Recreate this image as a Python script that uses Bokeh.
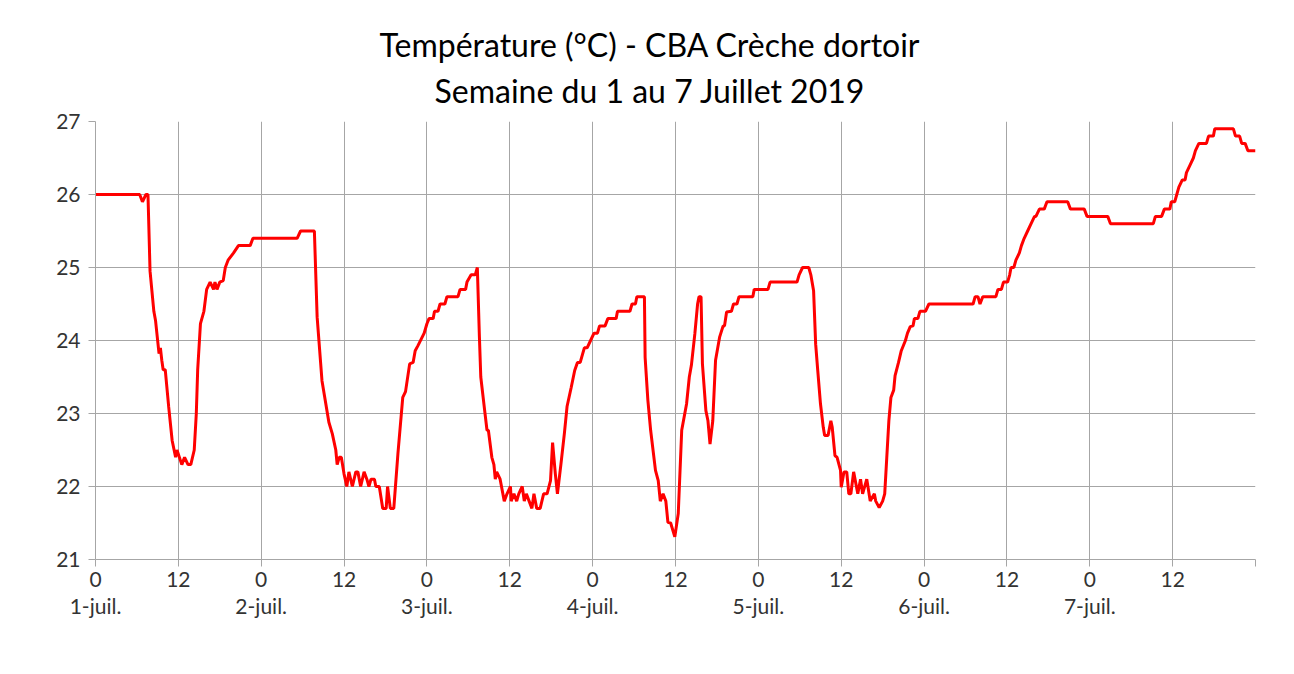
from bokeh.plotting import figure
from bokeh.models import LinearAxis, FixedTicker, Range1d, Title
from bokeh.embed import file_html
from bokeh.resources import INLINE

# ---- data (hours since 1 July 00:00, temperature in °C) ----
hours = [0, 6.4, 6.8, 7.3, 7.6, 7.9, 8.45, 8.7, 9.2, 9.4, 9.6, 9.8, 10.1, 10.6, 11.1, 11.6, 11.8,
         12.5, 12.9, 13.4, 13.8, 14.3, 14.6, 14.8, 15.2, 15.7, 16.1, 16.6, 17.1, 17.3, 17.6, 18.0,
         18.5, 18.8, 19.2, 20.0, 20.7, 22.4, 22.8, 29.2, 29.7, 31.7, 32.1, 32.8, 33.8, 34.3, 34.8,
         35.0, 35.3, 35.6, 36.0, 36.4, 36.7, 37.2, 37.7, 38.0, 38.4, 38.9, 39.3, 39.6, 39.9, 40.4,
         40.6, 41.1, 41.6, 42.1, 42.3, 42.7, 43.2, 43.8, 44.5, 44.9, 45.5, 46.0, 46.3, 46.7, 47.6,
         48.0, 48.3, 48.9, 49.1, 49.6, 49.9, 50.6, 50.9, 52.5, 52.8, 53.6, 53.8, 54.4, 55.0, 55.3,
         55.6, 55.8, 56.3, 56.7, 56.9, 57.4, 57.7, 57.9, 58.1, 58.6, 59.2, 59.6, 60.1, 60.2, 60.6,
         61.0, 61.3, 61.8, 62.1, 62.4, 62.8, 63.2, 63.5, 63.9, 64.4, 64.9, 65.4, 65.9, 66.2, 66.6,
         66.9, 67.4, 67.9, 68.3, 68.9, 69.4, 69.8, 70.2, 70.8, 71.2, 71.7, 72.2, 72.7, 73.0, 73.8,
         74.2, 75.4, 75.6, 77.4, 77.7, 78.2, 78.4, 79.5, 79.6, 80.0, 80.4, 81.1, 81.5, 81.8, 82.2,
         82.6, 82.9, 83.3, 83.9, 84.4, 84.9, 85.6, 86.0, 86.3, 86.8, 87.2, 87.4, 87.7, 87.9, 88.4,
         88.7, 89.0, 89.4, 89.8, 90.4, 90.9, 91.1, 91.4, 92.1, 92.4, 92.9, 93.2, 95.2, 95.4, 97.4,
         97.7, 101.6, 101.9, 102.4, 103.3, 103.6, 104.0, 104.3, 104.6, 105.0, 105.4, 105.6, 106.1,
         106.5, 106.7, 107.1, 107.4, 107.9, 108.0, 108.4, 108.8, 109.1, 109.4, 109.8, 110.4, 110.8,
         111.1, 111.7, 112.2, 112.8, 113.0, 113.5, 114.0, 114.3, 114.6, 114.9, 115.2, 115.6, 115.8,
         116.3, 116.7, 117.3, 117.6, 118.0, 118.4, 118.6, 119.1, 119.4, 120.2, 120.7, 127.1, 127.4,
         127.8, 128.1, 128.5, 130.4, 130.7, 131.2, 131.5, 132.1, 132.4, 132.6, 133.0, 133.3, 133.8,
         134.1, 134.5, 135.0, 135.5, 136.0, 136.2, 136.7, 137.4, 137.8, 140.8, 141.2, 143.2, 143.6,
         146.6, 147.0, 153.2, 153.5, 154.4, 154.8, 155.6, 155.8, 156.3, 156.6, 156.9, 157.4, 157.8,
         158.0, 158.5, 159.0, 159.3, 159.8, 160.9, 161.2, 161.9, 162.1, 164.8, 165.1, 165.7, 166.0,
         166.5, 166.9, 168.0]
temps = [26.0, 26.0, 25.9, 26.0, 26.0, 24.95, 24.4, 24.27, 23.82, 23.9, 23.73, 23.6, 23.6, 23.09, 22.63, 22.4, 22.5,
         22.3, 22.4, 22.3, 22.3, 22.5, 23.0, 23.6, 24.23, 24.4, 24.7, 24.8, 24.7, 24.8, 24.7, 24.8,
         24.82, 25.0, 25.1, 25.2, 25.3, 25.3, 25.4, 25.4, 25.5, 25.5, 24.32, 23.45, 22.88, 22.72, 22.5,
         22.3, 22.4, 22.4, 22.17, 22.0, 22.2, 22.0, 22.2, 22.2, 22.0, 22.2, 22.1, 22.0, 22.1, 22.1,
         22.0, 22.0, 21.7, 21.7, 22.0, 21.7, 21.7, 22.45, 23.22, 23.3, 23.68, 23.7, 23.86, 23.93, 24.1,
         24.23, 24.3, 24.3, 24.4, 24.4, 24.5, 24.5, 24.6, 24.6, 24.7, 24.7, 24.8, 24.9, 24.9, 25.0,
         24.05, 23.5, 23.09, 22.77, 22.77, 22.4, 22.3, 22.1, 22.2, 22.1, 21.8, 21.9, 22.0, 21.8, 21.9,
         21.8, 21.9, 22.0, 21.8, 21.9, 21.8, 21.7, 21.9, 21.7, 21.7, 21.9, 21.9, 22.08, 22.6, 22.17,
         21.9, 22.3, 22.72, 23.1, 23.36, 23.59, 23.7, 23.7, 23.9, 23.9, 24.0, 24.1, 24.1, 24.2, 24.2,
         24.3, 24.3, 24.4, 24.4, 24.5, 24.5, 24.6, 24.6, 23.77, 23.18, 22.77, 22.22, 22.08, 21.8, 21.9,
         21.8, 21.51, 21.5, 21.31, 21.63, 22.77, 23.13, 23.5, 23.66, 24.09, 24.5, 24.6, 24.6, 23.68, 23.04,
         22.9, 22.58, 22.9, 23.73, 24.05, 24.2, 24.2, 24.39, 24.4, 24.5, 24.5, 24.6, 24.6, 24.7, 24.7,
         24.8, 24.8, 24.9, 25.0, 25.0, 24.9, 24.68, 23.95, 23.59, 23.13, 22.81, 22.7, 22.7,
         22.9, 22.81, 22.42, 22.4, 22.22, 21.99, 22.2, 22.2, 21.9, 21.9, 22.2, 21.9, 22.1,
         21.9, 22.1, 21.8, 21.9, 21.8, 21.71, 21.8, 21.9, 22.4, 22.9, 23.22, 23.32, 23.52,
         23.7, 23.86, 24.0, 24.1, 24.19, 24.2, 24.3, 24.3, 24.4, 24.4, 24.5, 24.5, 24.6,
         24.6, 24.5, 24.6, 24.6, 24.7, 24.7, 24.8, 24.8, 24.9, 25.0, 25.0, 25.1, 25.2,
         25.3, 25.4, 25.5, 25.6, 25.7, 25.7, 25.8, 25.8, 25.9, 25.9, 25.8, 25.8, 25.7,
         25.7, 25.6, 25.6, 25.7, 25.7, 25.8, 25.8, 25.9, 25.9, 26.0, 26.1, 26.2, 26.2,
         26.3, 26.4, 26.5, 26.6, 26.7, 26.7, 26.8, 26.8, 26.9, 26.9, 26.8, 26.8, 26.7,
         26.7, 26.6, 26.6]

hour_ticks = [0, 12, 24, 36, 48, 60, 72, 84, 96, 108, 120, 132, 144, 156, 168]
hour_labels = ["0", "12", "0", "12", "0", "12", "0", "12", "0", "12", "0", "12", "0", "12", ""]
day_ticks = [0, 24, 48, 72, 96, 120, 144]
day_labels = ["1-juil.", "2-juil.", "3-juil.", "4-juil.", "5-juil.", "6-juil.", "7-juil."]
temp_ticks = [21, 22, 23, 24, 25, 26, 27]

title_line1 = "Température (°C) - CBA Crèche dortoir"
title_line2 = "Semaine du 1 au 7 Juillet 2019"

FONT = "Lato"
GRID = "#a6a6a6"
LABEL = "#333333"

p = figure(width=1278, height=658, output_backend="svg", toolbar_location=None,
           x_range=Range1d(0, 168), y_range=Range1d(21, 27),
           min_border_left=95, min_border_right=23, min_border_top=121, min_border_bottom=99,
           background_fill_color="white", border_fill_color="white")
p.outline_line_color = None

p.line(hours, temps, line_color="#ff0000", line_width=3)

# titles (left-aligned with an offset so they are centred on the whole chart area)
p.add_layout(Title(text=title_line2, align="left", text_font=FONT, text_font_size="32px",
                   text_font_style="normal", text_color="black", standoff=23, offset=339), "above")
p.add_layout(Title(text=title_line1, align="left", text_font=FONT, text_font_size="32px",
                   text_font_style="normal", text_color="black", standoff=-12, offset=284), "above")

# x axis (hours)
xa = p.xaxis[0]
xa.ticker = FixedTicker(ticks=hour_ticks)
xa.major_label_overrides = {t: l for t, l in zip(hour_ticks, hour_labels)}
xa.axis_line_color = GRID
xa.major_tick_line_color = GRID
xa.major_tick_out = 7
xa.major_tick_in = 0
xa.minor_tick_line_color = None
xa.major_label_text_font = FONT
xa.major_label_text_font_size = "21px"
xa.major_label_text_color = LABEL
xa.major_label_standoff = 5

# date axis
da = LinearAxis(ticker=FixedTicker(ticks=day_ticks),
                major_label_overrides={t: l for t, l in zip(day_ticks, day_labels)})
da.axis_line_color = None
da.major_tick_line_color = None
da.minor_tick_line_color = None
da.major_label_text_font = FONT
da.major_label_text_font_size = "21px"
da.major_label_text_color = LABEL
da.major_label_standoff = -3
p.add_layout(da, "below")

# y axis
ya = p.yaxis[0]
ya.ticker = FixedTicker(ticks=temp_ticks)
ya.axis_line_color = GRID
ya.major_tick_line_color = GRID
ya.major_tick_out = 7
ya.major_tick_in = 0
ya.minor_tick_line_color = None
ya.major_label_text_font = FONT
ya.major_label_text_font_size = "21px"
ya.major_label_text_color = LABEL
ya.major_label_standoff = 8

p.xgrid.ticker = FixedTicker(ticks=hour_ticks)
p.ygrid.ticker = FixedTicker(ticks=temp_ticks)
p.xgrid.grid_line_color = GRID
p.ygrid.grid_line_color = GRID
p.xgrid.grid_line_width = 1
p.ygrid.grid_line_width = 1

open("out.html", "w").write(file_html(p, INLINE))
